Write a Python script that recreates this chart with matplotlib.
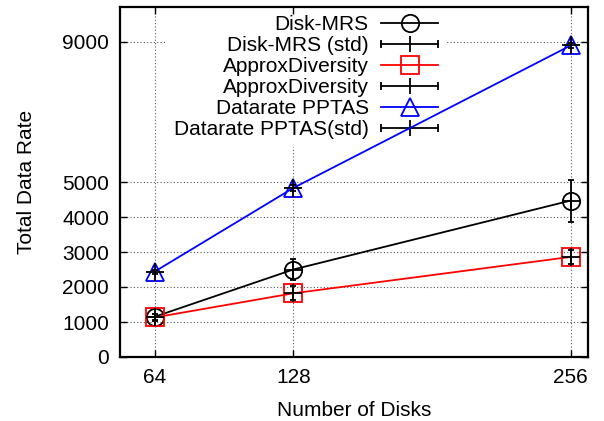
import matplotlib
matplotlib.use("Agg")
import matplotlib.pyplot as plt
from matplotlib.lines import Line2D
from matplotlib.legend_handler import HandlerLine2D

plt.rcParams['font.family'] = ['Liberation Sans', 'DejaVu Sans']

disks = [64, 128, 256]
disk_mrs = [1150, 2500, 4470]
disk_mrs_std = [90, 300, 600]
approx = [1130, 1820, 2860]
approx_std = [90, 200, 190]
pptas = [2440, 4830, 8900]
pptas_std = [60, 80, 70]

xticks = [64, 128, 256]
yticks = [0, 1000, 2000, 3000, 4000, 5000, 9000]

fig = plt.figure(figsize=(6.04, 4.21), dpi=100)
ax = fig.add_axes([120/604, 1-357/421, 468/604, 350/421])

ax.set_xlim(48, 264)
ax.set_ylim(0, 10000)

for y in yticks[1:]:
    ax.axhline(y, color='#555555', lw=0.8, ls=(0, (1, 2)), zorder=1)
for x in xticks:
    ax.axvline(x, color='#555555', lw=0.8, ls=(0, (1, 2)), zorder=1)

ms = 12.5
lw = 1.3
ax.plot(disks, disk_mrs, color='black', lw=lw, marker='o', mfc='none', mec='black', ms=ms, mew=lw, zorder=3)
ax.errorbar(disks, disk_mrs, yerr=disk_mrs_std, fmt='+', color='black', ms=ms, mew=lw, elinewidth=lw, capsize=2.3, capthick=lw, zorder=4)
ax.plot(disks, approx, color='red', lw=lw, marker='s', mfc='none', mec='red', ms=ms, mew=lw, zorder=3)
ax.errorbar(disks, approx, yerr=approx_std, fmt='+', color='black', ms=ms, mew=lw, elinewidth=lw, capsize=2.3, capthick=lw, zorder=4)
ax.plot(disks, pptas, color='blue', lw=lw, marker='^', mfc='none', mec='blue', ms=ms, mew=lw, zorder=3)
ax.errorbar(disks, pptas, yerr=pptas_std, fmt='+', color='black', ms=ms, mew=lw, elinewidth=lw, capsize=2.3, capthick=lw, zorder=4)

ax.set_xticks(xticks)
ax.set_yticks(yticks)
ax.tick_params(direction='in', length=5, width=1, top=True, right=True, labelsize=15, pad=8)
for s in ax.spines.values():
    s.set_linewidth(1.6)
ax.set_axisbelow(False)

ax.set_xlabel('Number of Disks', fontsize=15, labelpad=10)
ax.set_ylabel('Total Data Rate', fontsize=15, labelpad=19)

def std_handle():
    mid = Line2D([], [], color='black', lw=lw, marker='|', ms=12, mew=lw)
    caps = Line2D([], [], color='black', lw=0, marker='|', ms=6, mew=lw)
    return (mid, caps), caps

h1 = Line2D([], [], color='black', lw=lw, marker='o', mfc='none', ms=ms, mew=lw)
h2, c2 = std_handle()
h3 = Line2D([], [], color='red', lw=lw, marker='s', mfc='none', ms=ms, mew=lw)
h4, c4 = std_handle()
h5 = Line2D([], [], color='blue', lw=lw, marker='^', mfc='none', ms=ms, mew=lw)
h6, c6 = std_handle()

labels = ['Disk-MRS', 'Disk-MRS (std)', 'ApproxDiversity', 'ApproxDiversity',
          'Datarate PPTAS', 'Datarate PPTAS(std)']
hmap = {c: HandlerLine2D(numpoints=2, marker_pad=0) for c in (c2, c4, c6)}
leg = ax.legend([h1, h2, h3, h4, h5, h6], labels, handler_map=hmap,
                loc='upper right', bbox_to_anchor=(0.696, 0.998), borderaxespad=0,
                markerfirst=False, fontsize=15, handlelength=2.75, handletextpad=0.6,
                labelspacing=0.1, borderpad=0.35, frameon=True, fancybox=False,
                framealpha=1, edgecolor='none', facecolor='white')
leg.set_zorder(1.5)

fig.savefig('out.png', dpi=100)
